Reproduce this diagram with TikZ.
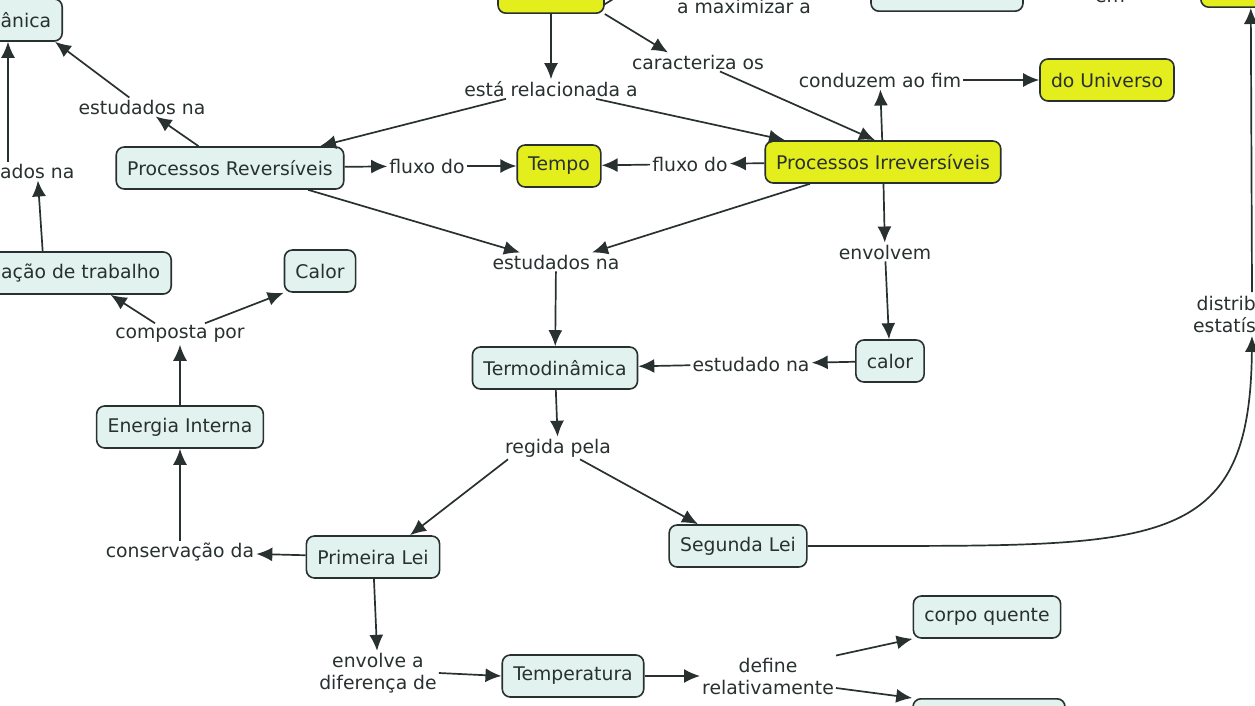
\documentclass[tikz,border=0pt]{standalone}
\usepackage{fontspec}
\setmainfont{DejaVu Sans}
\usetikzlibrary{arrows.meta,positioning}
\definecolor{menta}{RGB}{226,243,239}
\definecolor{lima}{RGB}{228,238,28}
\definecolor{tinta}{RGB}{40,48,48}

\begin{document}
\begin{tikzpicture}[x=1pt,y=-1pt,font=\fontsize{18.8}{22}\selectfont,text=tinta,
    >={Latex[length=16pt,width=14pt]},
    conceito/.style={draw=tinta,line width=1.6pt,fill=menta,rounded corners=8pt,
      minimum height=42pt,inner xsep=11pt},
    quente/.style={conceito,fill=lima},
    frase/.style={inner sep=2pt,align=center},
    liga/.style={->,draw=tinta,line width=1.7pt},
    linha/.style={draw=tinta,line width=1.7pt}]
  \useasboundingbox (0,0) rectangle (1255,706);
  \clip (0,0) rectangle (1255,706);

  % conceitos
  \begin{scope}[every node/.style=conceito]
    \node[anchor=east] (mecanica) at (63,20) {ânica};
    \node[anchor=east] (trabalho) at (172,273) {ação de trabalho};
    \node (procRev) at (230,168) {Processos Reversíveis};
    \node (calorA) at (320,271) {Calor};
    \node (energia) at (180,427) {Energia Interna};
    \node (termo) at (555,368) {Termodinâmica};
    \node (calorB) at (890,361) {calor};
    \node (primeira) at (373,557) {Primeira Lei};
    \node (segunda) at (738,546) {Segunda Lei};
    \node (temperatura) at (573,676) {Temperatura};
    \node (corpoQ) at (987,617) {corpo quente};
    \node[minimum width=152pt,anchor=south] (cimaB) at (947,12) {};
    \node[minimum width=152pt,anchor=north] (corpoF) at (989,698) {};
  \end{scope}
  \begin{scope}[every node/.style=quente]
    \node (tempo) at (559,166) {Tempo};
    \node (procIrr) at (883,162) {Processos Irreversíveis};
    \node (universo) at (1107,80) {do Universo};
    \node[minimum width=106pt,anchor=south] (cimaA) at (551,14) {};
    \node[minimum width=100pt,anchor=south west] (cimaC) at (1200,8) {};
  \end{scope}

  % frases de ligacao
  \begin{scope}[every node/.style=frase]
    \node[anchor=west] (adosna) at (-2,171) {ados na};
    \node (estudadosE) at (142,107) {estudados na};
    \node (estaRel) at (551,89) {está relacionada a};
    \node (caracteriza) at (698,62) {caracteriza os};
    \node (amax) at (744,6) {a maximizar a};
    \node (em) at (1110,-3) {em};
    \node (conduzem) at (880,80) {conduzem ao fim};
    \node (fluxoA) at (427,166) {fluxo do};
    \node (fluxoB) at (690,164) {fluxo do};
    \node (estudadosM) at (556,262) {estudados na};
    \node (envolvem) at (885,252) {envolvem};
    \node (estudado) at (751,364) {estudado na};
    \node (composta) at (180,334) {composta por};
    \node (regida) at (558,448) {regida pela};
    \node (conservacao) at (180,552) {conservação da};
    \node[anchor=east,align=right] (distrib) at (1258,314) {distrib\\estatís};
    \node (envolveA) at (378,673) {envolve a\\diferença de};
    \node (define) at (768,676) {define\\relativamente};
  \end{scope}
  \coordinate (tende) at (660,-30);
  \coordinate (distribBase) at (1252,336);
  \coordinate (distribTopo) at (1252,292);

  % ligacoes
  \draw[liga] (procRev) -- (estudadosE);
  \draw[liga] (estudadosE) -- (mecanica);
  \draw[liga] ([xshift=-38pt]trabalho.north) -- (adosna);
  \draw[liga] ([xshift=10pt]adosna.north west) -- ([xshift=10pt]adosna.north west |- mecanica.south);
  \draw[linha] ([yshift=-12pt]cimaA.east) -- (tende);
  \draw[liga] (amax.north east) -- (cimaB.west);
  \draw[liga] (cimaA) -- (estaRel);
  \draw[liga] ([xshift=-45pt]estaRel.south) -- ([xshift=90pt]procRev.north);
  \draw[liga] ([xshift=45pt]estaRel.south) -- ([xshift=-98pt]procIrr.north);
  \draw[liga] (cimaA.south east) -- ([xshift=-30pt]caracteriza.north);
  \draw[liga] ([xshift=22pt]caracteriza.south) -- ([xshift=-8pt]procIrr.north);
  \draw[liga] (procIrr) -- (conduzem);
  \draw[liga] (conduzem) -- (universo);
  \draw[liga] (procRev) -- (fluxoA);
  \draw[liga] (fluxoA) -- (tempo);
  \draw[liga] (procIrr) -- (fluxoB);
  \draw[liga] (fluxoB) -- (tempo);
  \draw[liga] ([xshift=78pt]procRev.south) -- ([xshift=-36pt]estudadosM.north);
  \draw[liga] ([xshift=-73pt]procIrr.south) -- ([xshift=36pt]estudadosM.north);
  \draw[liga] (procIrr) -- (envolvem);
  \draw[liga] (envolvem) -- (calorB);
  \draw[liga] (calorB) -- (estudado);
  \draw[liga] (estudado) -- (termo);
  \draw[liga] (estudadosM) -- (termo);
  \draw[liga] (termo) -- (regida);
  \draw[liga] ([xshift=-50pt]regida.south) -- ([xshift=37pt]primeira.north);
  \draw[liga] ([xshift=22pt]regida.south) -- ([xshift=-40pt]segunda.north);
  \draw[liga] (primeira) -- (conservacao);
  \draw[liga] (conservacao) -- (energia);
  \draw[liga] (energia) -- (composta);
  \draw[liga] ([xshift=-25pt]composta.north) -- ([xshift=30pt]trabalho.south);
  \draw[liga] ([xshift=25pt]composta.north) -- (calorA.south west);
  \draw[liga] (primeira) -- (envolveA);
  \draw[liga] (envolveA.east) -- (temperatura.west);
  \draw[liga] (temperatura) -- (define);
  \draw[liga] (define.north east) -- (corpoQ.south west);
  \draw[liga] ([yshift=-12pt]define.east) -- (corpoF.north west);
  \draw[liga] (segunda.east) .. controls (1150,545) and (1250,560) .. (distribBase);
  \draw[liga] (distribTopo) -- (cimaC.south);
\end{tikzpicture}
\end{document}
